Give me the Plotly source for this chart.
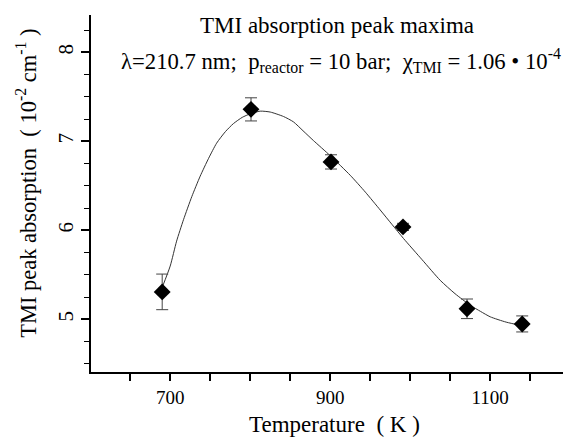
import plotly.graph_objects as go

# measured data
temp_K = [690, 801, 901, 991, 1071, 1140]
absorption = [5.31, 7.36, 6.77, 6.04, 5.12, 4.95]
abs_err = [0.20, 0.13, 0.08, 0.04, 0.11, 0.09]

# fitted curve
fit_T = [690, 700, 708, 716.6, 727, 737.5, 748, 758, 769, 779, 790, 800, 812.5, 825, 841.6,
         854, 866, 879, 900, 925, 944, 962.5, 977, 991.6, 1015, 1037.5, 1056, 1075, 1088,
         1100, 1120, 1140]
fit_A = [5.36, 5.60, 5.88, 6.12, 6.38, 6.61, 6.81, 6.98, 7.11, 7.20, 7.27, 7.31, 7.34, 7.33,
         7.28, 7.22, 7.12, 7.01, 6.84, 6.62, 6.43, 6.23, 6.07, 5.91, 5.67, 5.44, 5.29, 5.16,
         5.09, 5.03, 4.97, 4.93]

x_tickvals = [650, 700, 750, 800, 850, 900, 950, 1000, 1050, 1100, 1150]
x_ticktext = ["", "700", "", "", "", "900", "", "", "", "1100", ""]

FONT = "Liberation Serif"
NB = "&nbsp;"

fig = go.Figure()
fig.add_trace(go.Scatter(x=fit_T, y=fit_A, mode="lines",
                         line=dict(color="#333333", width=1, shape="spline", smoothing=0.6),
                         hoverinfo="skip", showlegend=False))
fig.add_trace(go.Scatter(x=temp_K, y=absorption, mode="markers",
                         marker=dict(symbol="diamond", size=13, color="black"),
                         error_y=dict(type="data", array=abs_err, visible=True,
                                      color="#444444", thickness=1, width=6),
                         showlegend=False))

fig.update_layout(
    width=563, height=438,
    margin=dict(l=91, r=0, t=15, b=66),
    paper_bgcolor="white", plot_bgcolor="white",
    font=dict(family=FONT, size=20, color="black"),
    xaxis=dict(range=[601, 1191], tickmode="array", tickvals=x_tickvals, ticktext=x_ticktext,
               ticks="outside", ticklen=7, tickwidth=1.5, tickcolor="black",
               showline=True, linecolor="black", linewidth=2,
               showgrid=False, zeroline=False,
               tickfont=dict(family=FONT, size=19)),
    yaxis=dict(range=[4.41, 8.42], tickmode="linear", tick0=5, dtick=1,
               ticks="outside", ticklen=8,
               tickwidth=1.5, tickcolor="black", tickangle=-90,
               minor=dict(tickmode="linear", tick0=5, dtick=0.25, ticks="outside", ticklen=5,
                          tickwidth=1.2, tickcolor="black", showgrid=False),
               showline=True, linecolor="black", linewidth=2,
               showgrid=False, zeroline=False,
               tickfont=dict(family=FONT, size=21)),
    annotations=[
        dict(text="TMI absorption peak maxima", xref="paper", yref="paper",
             x=0.522, y=1.012, xanchor="center", yanchor="top", showarrow=False,
             font=dict(family=FONT, size=23)),
        dict(text="λ=210.7 nm;" + NB + " p<sub>reactor</sub> = 10 bar;" + NB + " χ<sub>TMI</sub> = 1.06 • 10<sup>-4</sup>",
             xref="paper", yref="paper", x=1.0, y=0.873, xanchor="right", yanchor="middle",
             showarrow=False, font=dict(family=FONT, size=22.7)),
        dict(text="Temperature" + NB + NB + "(" + NB + "K" + NB + ")",
             xref="paper", yref="paper", x=0.515, y=-0.148, xanchor="center", yanchor="middle",
             showarrow=False, font=dict(family=FONT, size=23)),
        dict(text="TMI peak absorption" + NB + NB + "(" + NB + "10<sup>-2</sup> cm<sup>-1</sup>" + NB + ")",
             xref="paper", yref="paper", x=-0.1377, y=0.527, xanchor="center", yanchor="middle",
             textangle=-90, showarrow=False, font=dict(family=FONT, size=22.5)),
    ],
)

fig.write_html("out.html")
